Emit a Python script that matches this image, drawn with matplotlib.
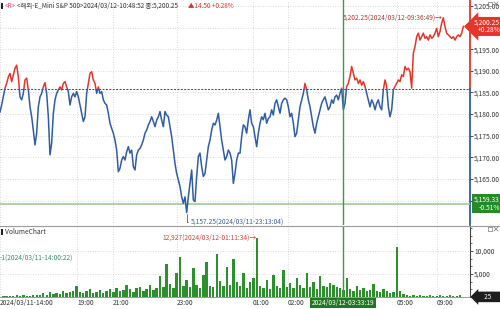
import numpy as np
import matplotlib.pyplot as plt
import matplotlib.transforms as mtransforms
from matplotlib.patches import Rectangle
from matplotlib.lines import Line2D
from matplotlib.ticker import FixedLocator, MultipleLocator, FuncFormatter

plt.rcParams['font.family'] = ['Noto Sans CJK KR', 'DejaVu Sans']

# ---- data (1 point ~ 1 bar) ----
prev_close = 5185.75
price = [
    5180.5, 5182.1, 5184.0, 5186.0, 5187.1, 5188.6, 5189.4, 5187.5, 5189.0, 5190.6,
    5191.3, 5188.6, 5184.0, 5183.3, 5184.8, 5187.9, 5188.3, 5185.6, 5181.7, 5179.4,
    5176.3, 5172.9, 5175.6, 5181.7, 5184.0, 5184.8, 5186.3, 5187.3, 5184.8, 5179.4,
    5170.6, 5173.3, 5180.2, 5183.3, 5184.8, 5185.6, 5186.3, 5185.6, 5187.1, 5187.5,
    5186.3, 5185.2, 5182.1, 5184.0, 5184.8, 5184.0, 5185.2, 5184.0, 5182.1, 5180.2,
    5178.3, 5179.4, 5184.8, 5187.1, 5189.4, 5189.8, 5187.9, 5187.1, 5184.8, 5186.3,
    5184.8, 5185.2, 5183.3, 5182.5, 5182.1, 5180.2, 5177.9, 5176.7, 5175.6, 5174.0,
    5171.7, 5166.7, 5167.5, 5169.4, 5170.2, 5169.4, 5171.3, 5172.5, 5171.0, 5171.7,
    5167.9, 5167.1, 5170.6, 5171.7, 5172.1, 5172.9, 5174.0, 5175.6, 5176.3, 5177.5,
    5178.3, 5179.4, 5178.3, 5177.1, 5178.6, 5179.4, 5180.6, 5178.6, 5177.1, 5180.6,
    5179.8, 5179.4, 5177.1, 5174.8, 5171.7, 5168.6, 5166.3, 5164.8, 5163.3, 5160.9,
    5159.4, 5160.9, 5157.25, 5160.9, 5164.0, 5167.1, 5160.2, 5159.8, 5165.6, 5170.2,
    5171.0, 5167.9, 5165.6, 5166.3, 5169.4, 5172.5, 5174.0, 5176.3, 5177.9, 5177.5,
    5178.6, 5180.2, 5177.1, 5174.0, 5171.7, 5169.4, 5170.2, 5171.7, 5171.0, 5169.4,
    5164.0, 5166.3, 5169.4, 5171.0,
    5171.0, 5174.8, 5177.5, 5177.1, 5175.6, 5178.7, 5181.0, 5177.9, 5177.1, 5174.8,
    5172.5, 5175.6, 5177.9, 5179.4, 5178.7, 5180.2, 5177.9, 5179.0, 5179.4, 5181.0,
    5179.8, 5182.5, 5183.3, 5181.7, 5180.2, 5182.5, 5183.3, 5183.7, 5183.3, 5181.7,
    5179.4, 5180.2, 5177.9, 5174.8, 5175.6, 5178.7, 5181.7, 5183.3, 5184.8, 5187.1,
    5185.6, 5183.3, 5181.7, 5179.4, 5177.1, 5175.6, 5177.9, 5179.4, 5181.0, 5182.5,
    5183.3, 5184.0, 5182.5, 5181.0, 5181.7, 5183.3, 5182.5, 5184.0, 5184.4, 5183.3,
    5184.8, 5186.0, 5181.0, 5182.5, 5186.4, 5187.1, 5188.7, 5191.0, 5189.4, 5187.9,
    5188.3, 5187.1, 5187.9, 5186.7, 5187.5, 5186.4, 5184.8, 5183.3, 5181.7, 5183.3,
    5182.5, 5181.0, 5182.5, 5183.3, 5181.7, 5181.0, 5185.6, 5187.9, 5186.4, 5181.7,
    5179.4, 5181.0, 5185.6, 5186.4, 5187.1, 5187.9, 5187.5, 5189.1, 5188.7, 5191.0,
    5190.2, 5190.6, 5189.8, 5186.0, 5194.1, 5195.6, 5197.9, 5198.7, 5197.1, 5197.9,
    5198.7, 5197.5, 5197.9, 5197.1, 5198.3, 5197.5, 5197.9, 5198.7, 5199.8, 5197.9,
    5199.1, 5201.0, 5202.25, 5200.2, 5198.7, 5198.3, 5197.9, 5197.5, 5197.9, 5197.1,
    5197.9, 5198.3, 5197.9, 5198.7, 5200.25,
]
# one volume bar every 2 price points
volume = [
    1, 150, 300, 250, 180, 350, 220, 400, 300, 250, 450, 380,
    500, 800, 450, 1000, 600, 900, 700, 1200, 800, 1000, 1300,
    2400, 1000, 800, 1300, 1800, 900, 1100, 1500, 800, 1300, 1700, 1000,
    2000, 1200, 1500, 2600, 1700, 1100, 1900, 2200, 1400, 1800, 2600, 1500, 1900,
    4500, 2200, 7200, 2800, 2000, 5200, 8800, 2400, 3800, 2100, 6200, 2600,
    1900, 4800, 7600, 2500, 2200, 9400, 3500, 2300, 6500, 2600, 8200, 3200,
    2400, 5200, 2000, 3200, 4200, 12927, 2300, 1900, 3600, 1800, 4800, 2500,
    2000, 5800, 2200, 3000, 1900, 4200, 2600, 2000, 5200, 2200, 3200, 1800,
    4600, 2400, 2100, 3000, 2600, 2200,
    1900, 1500, 4200, 1700, 1300, 2400, 1500, 2000, 1200, 1600, 2800, 1300,
    1000, 1700, 1400, 900, 1100, 10800,
    1200, 600, 400, 300, 500, 250, 350, 200, 300, 450, 250, 200, 350, 300,
    250, 400, 300, 200, 350, 25,
]
tick_pos = [0, 46.2, 67.8, 106.2, 151.8, 172.8, 238.2, 262.2]
tick_labels = ['2024/03/11-14:00', '19:00', '21:00', '23:00', '01:00', '02:00', '05:00', '09:00']
max_time = '2024/03/12-09:36:49'
min_time = '2024/03/11-23:13:04'
vol_max_time = '2024/03/12-01:11:34'
vol_min_label = '1(2024/03/11-14:00:22)'
cross_x = 205.8
cross_time = '2024/03/12-03:33:19'
cross_price = 5159.33
change = 14.50
change_pct = 0.28

price = np.array(price)
volume = np.array(volume)
px = np.arange(len(price))
vx = np.arange(len(volume)) * 2

RED = '#e4352b'
BLUE = '#2f5ca6'
GRID = '#cdcdcd'
W, H = 500, 309


def fy(y):
    return 1 - y / H


fig = plt.figure(figsize=(5, 3.09), dpi=100)
ax = fig.add_axes([0, fy(225), 470 / W, 225 / H])
axv = fig.add_axes([0, fy(297), 470 / W, (297 - 226) / H], sharex=ax)

ax.set_xlim(0, 282)
ax.set_ylim(5154.4, 5206.36)
axv.set_ylim(0, 15435)

for a in (ax, axv):
    a.set_facecolor('white')
    for s in ('top', 'left', 'right', 'bottom'):
        a.spines[s].set_visible(False)
    a.grid(True, color=GRID, ls=(0, (1, 2)), lw=0.6)
    a.set_axisbelow(True)

# labels at 5,160 and 5,200 sit under the value boxes
hidden = (5160, 5200)
ax.xaxis.set_major_locator(FixedLocator(tick_pos))
ax.yaxis.set_major_locator(FixedLocator(np.arange(5160, 5206, 5)))
ax.yaxis.set_major_formatter(FuncFormatter(lambda v, p: '' if round(v) in hidden else f'{v:,.2f}'))
ax.yaxis.tick_right()
ax.tick_params(axis='y', length=2, width=0.6, pad=1, labelsize=4.8, colors='#333333')
ax.tick_params(axis='x', bottom=False, labelbottom=False)

axv.yaxis.set_major_locator(FixedLocator([5000, 10000]))
axv.yaxis.set_minor_locator(MultipleLocator(5000 / 3))
axv.yaxis.set_major_formatter(FuncFormatter(lambda v, p: f'{v:,.0f}'))
axv.yaxis.tick_right()
axv.tick_params(axis='y', which='major', length=2, width=0.6, pad=1, labelsize=4.8, colors='#333333')
axv.tick_params(axis='y', which='minor', length=1.5, width=0.5, colors='#333333')
axv.set_xticklabels(tick_labels)
axv.tick_params(axis='x', length=0, pad=1.5, labelsize=4.8, colors='#333333')
for lab in axv.get_xticklabels():
    lab.set_ha('left')
axv.spines['right'].set_visible(True)
axv.spines['right'].set_color('#444444')
axv.spines['right'].set_linewidth(0.8)
axv.spines['bottom'].set_visible(True)
axv.spines['bottom'].set_color('#888888')
axv.spines['bottom'].set_linewidth(0.6)

# price line: red above previous close, blue below
line_b, = ax.plot(px, price, color=BLUE, lw=1.1, zorder=3)
line_r, = ax.plot(px, price, color=RED, lw=1.1, zorder=3)
line_b.set_clip_path(Rectangle((0, 5100), 300, prev_close - 5100, transform=ax.transData))
line_r.set_clip_path(Rectangle((0, prev_close), 300, 200, transform=ax.transData))
ax.axhline(prev_close, color='#444444', ls=(0, (2, 1.5)), lw=0.7, zorder=2)

# right axis line in two colours
blend = mtransforms.blended_transform_factory(ax.transAxes, ax.transData)
ylo, yhi = ax.get_ylim()
ax.plot([1, 1], [prev_close, yhi], color=RED, lw=1.3, transform=blend, clip_on=False)
ax.plot([1, 1], [ylo, prev_close], color=BLUE, lw=1.3, transform=blend, clip_on=False)

# crosshair
ax.axhline(cross_price, color='#9fca98', lw=1.2, zorder=2)
ax.axvline(cross_x, color='#3f9a3a', lw=1.0, zorder=4)
axv.axvline(cross_x, color='#3f9a3a', lw=1.0, zorder=4)

# volume bars
axv.bar(vx, volume, width=1.4, color='#2e8f2e', linewidth=0)

# high / low / volume max annotations
imax = int(np.argmax(price))
imin = int(np.argmin(price))
ax.annotate(f'{price[imax]:,.2f}({max_time})→', xy=(px[imax], price[imax]),
            xytext=(-0.5, 0), textcoords='offset points', ha='right', va='center',
            fontsize=4.8, color='#b23a34')
ax.annotate(f'{price[imin]:,.2f}({min_time})', xy=(px[imin], price[imin]),
            xytext=(3, -6.5), textcoords='offset points', ha='left', va='center',
            fontsize=4.8, color='#3f5f95',
            arrowprops=dict(arrowstyle='-', color='#3f5f95', lw=0.6, shrinkA=0, shrinkB=1,
                            connectionstyle='angle,angleA=0,angleB=90,rad=0'))
vmax = int(np.argmax(volume))
axv.annotate(f'{volume[vmax]:,}({vol_max_time})→', xy=(vx[vmax], volume[vmax]),
             xytext=(0, 0), textcoords='offset points', ha='right', va='center',
             fontsize=4.8, color='#d2453d')
axv.text(0.0, 0.55, '-' + vol_min_label, transform=axv.transAxes, ha='left', va='center',
         fontsize=4.8, color='#3d8a6a')

# right-side value boxes
ax.text(1.0 + 4 / 470, price[-1], f'{price[-1]:,.2f}\n+{change_pct:.2f}%', transform=blend,
        ha='left', va='center', fontsize=4.8, color='white', linespacing=0.95,
        multialignment='right', clip_on=False, zorder=6,
        bbox=dict(boxstyle='larrow,pad=0.25', fc=RED, ec='none'))
ax.text(1.0 + 4 / 470, cross_price, f'{cross_price:,.2f}\n-0.51%', transform=blend,
        ha='left', va='center', fontsize=4.8, color='white', linespacing=0.95,
        multialignment='right', clip_on=False, zorder=6,
        bbox=dict(boxstyle='square,pad=0.25', fc='#268a26', ec='none'))
vblend = mtransforms.blended_transform_factory(axv.transAxes, axv.transData)
axv.text(1.0 + 6 / 470, volume[-1], f'      {volume[-1]}      ', transform=vblend,
         ha='left', va='center', fontsize=4.6, color='white', clip_on=False, zorder=6,
         bbox=dict(boxstyle='larrow,pad=0.2', fc='#1e1e1e', ec='none'))
xblend = mtransforms.blended_transform_factory(axv.transData, axv.transAxes)
axv.text(cross_x, -0.085, cross_time, transform=xblend,
         ha='center', va='center', fontsize=4.8, color='white', clip_on=False, zorder=6,
         bbox=dict(boxstyle='square,pad=0.2', fc='#1f7a1f', ec='none'))

# separator between panels
fig.add_artist(Line2D([0, 1], [fy(225.5), fy(225.5)], color='#9a9a9a', lw=0.8))

# small window icons at the top right of each panel
for top in (1, 226):
    fig.add_artist(Rectangle((488 / W, fy(top + 5)), 4 / W, 4 / H, fill=False, ec='#777777', lw=0.5))
    fig.add_artist(Line2D([494 / W, 498 / W], [fy(top + 1), fy(top + 5)], color='#777777', lw=0.5))
    fig.add_artist(Line2D([494 / W, 498 / W], [fy(top + 5), fy(top + 1)], color='#777777', lw=0.5))

# panel markers (small dark bars left of the titles)
for yc in (6, 232):
    fig.add_artist(Rectangle((1 / W, fy(yc + 3)), 2 / W, 6 / H, fc='#222222', ec='none'))

# header and panel titles
fig.text(5 / W, fy(6), '<R>', fontsize=4.6, color='#e0457a', va='center')
fig.text(17 / W, fy(6), '<해외-E_Mini S&P 500>2024/03/12-10:48:52 종:5,200.25',
         fontsize=4.6, color='#333333', va='center')
fig.text(188 / W, fy(6), f'▲{change:.2f} +{change_pct:.2f}%', fontsize=4.6, color='#e03030', va='center')
fig.text(5 / W, fy(232), 'VolumeChart', fontsize=4.8, color='#333333', va='center')

fig.savefig('out.png', dpi=100)
